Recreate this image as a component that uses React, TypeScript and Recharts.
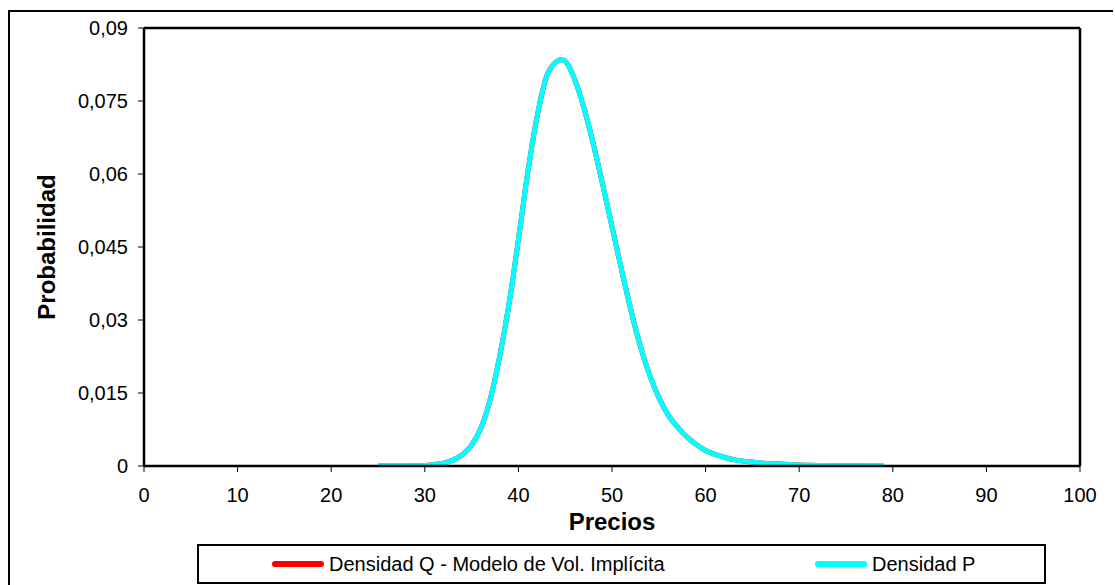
import React from "react";
import {
  LineChart,
  Line,
  XAxis,
  YAxis,
  ReferenceLine,
} from "recharts";

// precios (eje X)
const precios = [
  25, 26, 27, 28, 29, 30, 31, 32, 33, 34, 35, 36, 37, 38, 39, 40, 41, 42, 43, 44,
  44.5, 45, 46, 47, 48, 49, 50, 51, 52, 53, 54, 55, 56, 57, 58, 59, 60, 61, 62,
  63, 64, 65, 66, 67, 68, 69, 70, 71, 72, 73, 74, 75, 76, 77, 78, 79,
];

// Densidad P (cian)
const densidadP = [
  0, 0, 0, 0.00002, 0.00005, 0.0001, 0.0003, 0.0006, 0.0012, 0.0023, 0.0043,
  0.0078, 0.0138, 0.0225, 0.0333, 0.0465, 0.0603, 0.0718, 0.08, 0.083, 0.0835,
  0.0832, 0.0795, 0.0736, 0.0662, 0.0579, 0.0492, 0.0405, 0.0322, 0.0248,
  0.0188, 0.0141, 0.0105, 0.008, 0.006, 0.0044, 0.0032, 0.0024, 0.0018, 0.0013,
  0.001, 0.0008, 0.0006, 0.0005, 0.0004, 0.0003, 0.0002, 0.00015, 0.0001,
  0.00008, 0.00006, 0.00004, 0.00003, 0.00002, 0.00001, 0.00001,
];

// Densidad Q (roja) queda tapada por la P
const densidadQ = [
  0, 0, 0, 0.00002, 0.00005, 0.0001, 0.0003, 0.0006, 0.0012, 0.0023, 0.0043,
  0.0078, 0.0138, 0.0225, 0.0333, 0.0465, 0.0603, 0.0718, 0.08, 0.083, 0.0835,
  0.0832, 0.0795, 0.0736, 0.0662, 0.0579, 0.0492, 0.0405, 0.0322, 0.0248,
  0.0188, 0.0141, 0.0105, 0.008, 0.006, 0.0044, 0.0032, 0.0024, 0.0018, 0.0013,
  0.001, 0.0008, 0.0006, 0.0005, 0.0004, 0.0003, 0.0002, 0.00015, 0.0001,
  0.00008, 0.00006, 0.00004, 0.00003, 0.00002, 0.00001, 0.00001,
];

const xTicks = [0, 10, 20, 30, 40, 50, 60, 70, 80, 90, 100];
const yTicks = [0, 0.015, 0.03, 0.045, 0.06, 0.075, 0.09];
const yTickLabels = ["0", "0,015", "0,03", "0,045", "0,06", "0,075", "0,09"];

const series = [
  { key: "q", name: "Densidad Q - Modelo de Vol. Implícita", color: "#ff0000" },
  { key: "p", name: "Densidad P", color: "#00ffff" },
];

const data = precios.map((precio, i) => ({
  precio,
  q: densidadQ[i],
  p: densidadP[i],
}));

const FONT = "'Liberation Sans', Arial, sans-serif";

export default function App() {
  return (
    <div
      style={{
        position: "fixed",
        left: 0,
        top: 0,
        width: 1115,
        height: 585,
        overflow: "hidden",
        background: "#fff",
        fontFamily: FONT,
      }}
    >
      {/* marco exterior */}
      <div
        style={{
          position: "absolute",
          left: 8,
          top: 10,
          width: 1105,
          height: 600,
          borderTop: "2px solid #000",
          borderLeft: "2px solid #000",
          boxSizing: "border-box",
        }}
      />

      <div style={{ position: "absolute", left: 0, top: 0 }}>
        <LineChart
          width={1115}
          height={585}
          data={data}
          margin={{ top: 28, right: 35, left: 0, bottom: 72 }}
        >
          <XAxis
            dataKey="precio"
            type="number"
            domain={[0, 100]}
            ticks={xTicks}
            allowDataOverflow
            height={47}
            axisLine={{ stroke: "#000", strokeWidth: 2.5 }}
            tickLine={{ stroke: "#000", strokeWidth: 1 }}
            tickSize={6}
            tickMargin={16}
            tick={{ fill: "#000", fontSize: 20, fontFamily: FONT }}
            label={{
              value: "Precios",
              position: "bottom",
              offset: 0,
              style: {
                fill: "#000",
                fontSize: 24,
                fontWeight: "bold",
                fontFamily: FONT,
              },
            }}
          />
          <YAxis
            type="number"
            domain={[0, 0.09]}
            ticks={yTicks}
            allowDataOverflow
            width={144}
            axisLine={{ stroke: "#000", strokeWidth: 2.5 }}
            tickLine={{ stroke: "#000", strokeWidth: 1 }}
            tickSize={6}
            tickMargin={10}
            tickFormatter={(v: number) => yTickLabels[yTicks.indexOf(v)] ?? String(v)}
            tick={{ fill: "#000", fontSize: 20, fontFamily: FONT }}
            label={{
              value: "Probabilidad",
              angle: -90,
              position: "insideLeft",
              offset: 46,
              style: {
                textAnchor: "middle",
                fill: "#000",
                fontSize: 24,
                fontWeight: "bold",
                fontFamily: FONT,
              },
            }}
          />
          {/* bordes superior y derecho del área de trazado */}
          <ReferenceLine y={0.09} stroke="#000" strokeWidth={2.5} />
          <ReferenceLine x={100} stroke="#000" strokeWidth={2.5} />

          {series.map((s) => (
            <Line
              key={s.key}
              type="monotone"
              dataKey={s.key}
              name={s.name}
              stroke={s.color}
              strokeWidth={5}
              dot={false}
              activeDot={false}
              isAnimationActive={false}
            />
          ))}
        </LineChart>
      </div>

      {/* leyenda */}
      <div
        style={{
          position: "absolute",
          left: 197,
          top: 544,
          width: 849,
          height: 40,
          border: "2px solid #000",
          boxSizing: "border-box",
          background: "#fff",
        }}
      >
        {series.map((s, i) => (
          <div
            key={s.key}
            style={{
              position: "absolute",
              left: i === 0 ? 73 : 616,
              top: 0,
              height: 36,
              display: "flex",
              alignItems: "center",
            }}
          >
            <div
              style={{
                width: 52,
                height: 6,
                borderRadius: 3,
                background: s.color,
                marginRight: 5,
              }}
            />
            <span style={{ fontSize: 20, color: "#000", whiteSpace: "nowrap" }}>
              {s.name}
            </span>
          </div>
        ))}
      </div>
    </div>
  );
}
